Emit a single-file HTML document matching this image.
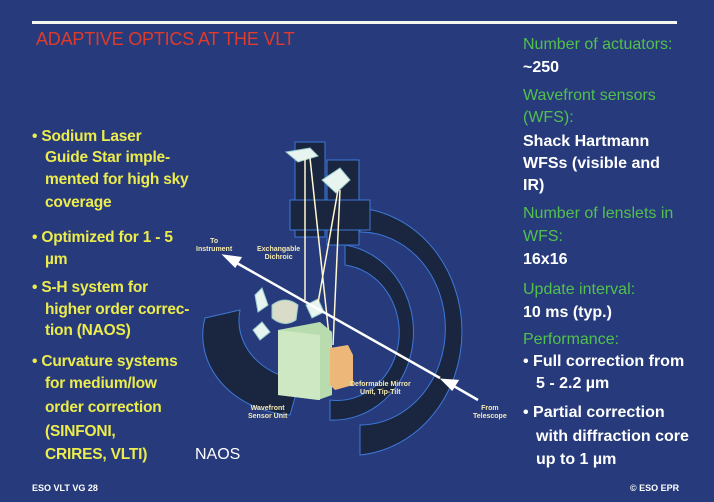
<!DOCTYPE html>
<html><head><meta charset="utf-8"><style>
body{margin:0;width:714px;height:502px;overflow:hidden;background:#273b7c;font-family:"Liberation Sans",sans-serif;position:relative}
.t{position:absolute;white-space:nowrap;font-size:16px;line-height:18px}
.y{color:#ecec4c;font-weight:bold;font-size:15.5px;letter-spacing:-0.2px}
.g{color:#52c04c}
.w{color:#fff;font-weight:bold}
.s{position:absolute;font-size:7px;font-weight:bold;color:#f4e9b0;text-align:center;line-height:8px;white-space:nowrap}
</style></head><body>
<div style="position:absolute;left:32px;top:21px;width:645px;height:3px;background:#f4f6f0"></div>
<div class="t" style="left:36px;top:28px;font-size:18px;line-height:22px;color:#e03a2a;letter-spacing:-0.2px">ADAPTIVE OPTICS AT THE VLT</div>

<div class="t y" style="left:32px;top:128px">• Sodium Laser</div>
<div class="t y" style="left:45px;top:149px">Guide Star imple-</div>
<div class="t y" style="left:45px;top:171px">mented for high sky</div>
<div class="t y" style="left:45px;top:194px">coverage</div>
<div class="t y" style="left:32px;top:229px">• Optimized for 1 - 5</div>
<div class="t y" style="left:45px;top:251px">µm</div>
<div class="t y" style="left:32px;top:279px">• S-H system for</div>
<div class="t y" style="left:45px;top:301px">higher order correc-</div>
<div class="t y" style="left:45px;top:322px">tion (NAOS)</div>
<div class="t y" style="left:32px;top:353px">• Curvature systems</div>
<div class="t y" style="left:45px;top:375px">for medium/low</div>
<div class="t y" style="left:45px;top:399px">order correction</div>
<div class="t y" style="left:45px;top:423px">(SINFONI,</div>
<div class="t y" style="left:45px;top:446px">CRIRES, VLTI)</div>
<div class="t" style="left:195px;top:446px;color:#fff">NAOS</div>

<div class="t g" style="left:523px;top:36px">Number of actuators:</div>
<div class="t w" style="left:523px;top:59px">~250</div>
<div class="t g" style="left:523px;top:87px">Wavefront sensors</div>
<div class="t g" style="left:523px;top:109px">(WFS):</div>
<div class="t w" style="left:523px;top:133px">Shack Hartmann</div>
<div class="t w" style="left:523px;top:155px">WFSs (visible and</div>
<div class="t w" style="left:523px;top:177px">IR)</div>
<div class="t g" style="left:523px;top:205px">Number of lenslets in</div>
<div class="t g" style="left:523px;top:228px">WFS:</div>
<div class="t w" style="left:523px;top:251px">16x16</div>
<div class="t g" style="left:523px;top:281px">Update interval:</div>
<div class="t w" style="left:523px;top:304px">10 ms (typ.)</div>
<div class="t g" style="left:523px;top:331px">Performance:</div>
<div class="t w" style="left:523px;top:353px">• Full correction from</div>
<div class="t w" style="left:536px;top:375px">5 - 2.2 µm</div>
<div class="t w" style="left:523px;top:404px">• Partial correction</div>
<div class="t w" style="left:536px;top:428px">with diffraction core</div>
<div class="t w" style="left:536px;top:451px">up to 1 µm</div>

<div class="t" style="left:32px;top:483px;font-size:9px;line-height:10px;color:#fff;font-weight:bold">ESO VLT VG 28</div>
<div class="t" style="left:630px;top:483px;font-size:9px;line-height:10px;color:#fff;font-weight:bold">© ESO EPR</div>

<svg style="position:absolute;left:0;top:0" width="714" height="502">
<g fill="#1a2540" stroke="#3d78d8" stroke-width="1">
<path d="M360,208 A112,124 0 0 1 360,455 L360,425 A85,96 0 0 0 360,232 Z"/>
<path d="M345,245 A80,88 0 0 1 330,420 L330,400 A62,68 0 0 0 345,265 Z"/>
<path d="M205,318 L240,310 A70,60 0 0 0 300,380 L290,415 A95,80 0 0 1 205,318 Z"/>
<rect x="295" y="142" width="30" height="95"/>
<rect x="327" y="160" width="32" height="85"/>
<rect x="290" y="200" width="80" height="30"/>
</g>
<g fill="#e8f4f0" stroke="#9cc" stroke-width="1">
<path d="M286,152 L310,148 L318,156 L298,162 Z"/>
<path d="M322,180 L340,168 L350,180 L336,193 Z"/>
<path d="M306,305 L318,299 L324,312 L312,318 Z"/>
<path d="M255,295 L262,288 L268,305 L258,312 Z"/>
<path d="M253,330 L262,322 L270,332 L260,340 Z"/>
<path d="M272,305 Q285,295 298,305 L296,320 Q284,328 272,318 Z" fill="#d8dcc8"/>
</g>
<g stroke="#fff8d0" stroke-width="1.5">
<line x1="305" y1="158" x2="305" y2="300"/>
<line x1="310" y1="158" x2="330" y2="345"/>
<line x1="338" y1="190" x2="318" y2="303"/>
<line x1="340" y1="190" x2="333" y2="345"/>
</g>
<path d="M278,330 L320,322 L332,332 L332,395 L318,400 L278,395 Z" fill="#b8dcae"/>
<path d="M278,330 L320,335 L320,400 L278,395 Z" fill="#cfe8c4"/>
<path d="M330,348 L348,345 L353,355 L353,385 L335,390 L330,385 Z" fill="#eeb77a"/>
<g stroke="#fff" stroke-width="2.5" fill="#fff">
<line x1="440" y1="378" x2="235" y2="262"/>
<path d="M225,256 L240,258 L235,266 Z"/>
<line x1="478" y1="400" x2="452" y2="385"/>
<path d="M443,380 L457,381 L452,389 Z"/>
</g>
</svg>
<div class="s" style="left:196px;top:238px">To<br>Instrument</div>
<div class="s" style="left:257px;top:246px">Exchangable<br>Dichroic</div>
<div class="s" style="left:350px;top:381px">Deformable Mirror<br>Unit, Tip-Tilt</div>
<div class="s" style="left:248px;top:405px">Wavefront<br>Sensor Unit</div>
<div class="s" style="left:473px;top:405px">From<br>Telescope</div>
</body></html>
